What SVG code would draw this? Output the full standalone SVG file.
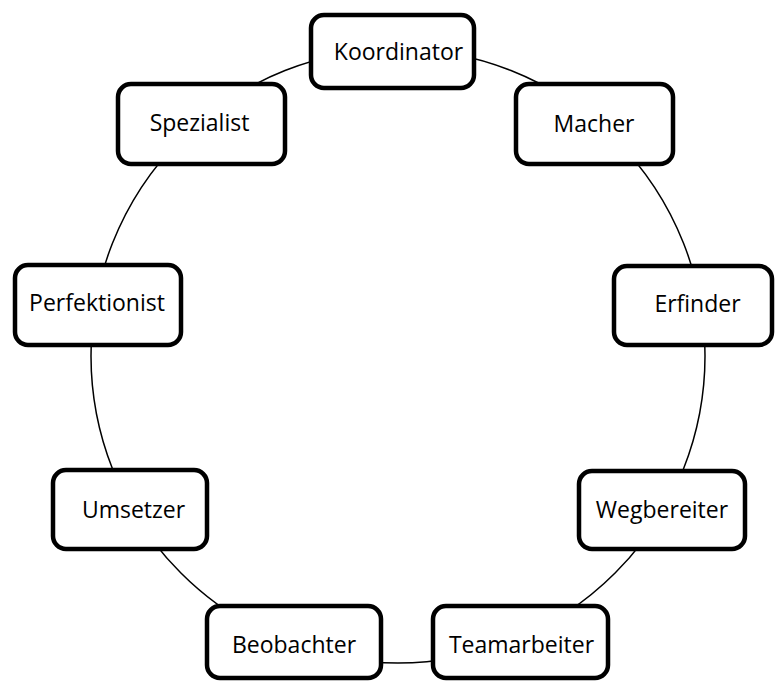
<svg xmlns="http://www.w3.org/2000/svg" width="776" height="682" viewBox="0 0 776 682">
<style>
.box{fill:#fff;stroke:#000;stroke-width:4.5}
.lbl{font-family:"Open Sans","Noto Sans","Liberation Sans",sans-serif;font-size:23px;fill:#000;text-anchor:middle}
.ring{fill:none;stroke:#000;stroke-width:1.5}
</style>
<rect width="776" height="682" fill="#fff"/>
<g id="connectors">
<circle class="ring" cx="398" cy="356" r="307"/>
</g>
<g id="koordinator"><rect class="box" x="311" y="15" width="163" height="73" rx="13"/><text class="lbl" x="398.5" y="60">Koordinator</text></g>
<g id="spezialist"><rect class="box" x="118" y="84" width="167" height="80" rx="13"/><text class="lbl" x="199.5" y="131">Spezialist</text></g>
<g id="macher"><rect class="box" x="516" y="84" width="157" height="80" rx="13"/><text class="lbl" x="594" y="132">Macher</text></g>
<g id="perfektionist"><rect class="box" x="15" y="265" width="166" height="80" rx="13"/><text class="lbl" x="97" y="311">Perfektionist</text></g>
<g id="erfinder"><rect class="box" x="614" y="266" width="158" height="79" rx="13"/><text class="lbl" x="697.5" y="312">Erfinder</text></g>
<g id="umsetzer"><rect class="box" x="53" y="470" width="154" height="79" rx="13"/><text class="lbl" x="133.5" y="518">Umsetzer</text></g>
<g id="wegbereiter"><rect class="box" x="579" y="471" width="166" height="78" rx="13"/><text class="lbl" x="662" y="518">Wegbereiter</text></g>
<g id="beobachter"><rect class="box" x="207" y="606" width="174" height="72" rx="13"/><text class="lbl" x="294" y="653">Beobachter</text></g>
<g id="teamarbeiter"><rect class="box" x="433" y="606" width="175" height="72" rx="13"/><text class="lbl" x="521.5" y="653">Teamarbeiter</text></g>
</svg>
